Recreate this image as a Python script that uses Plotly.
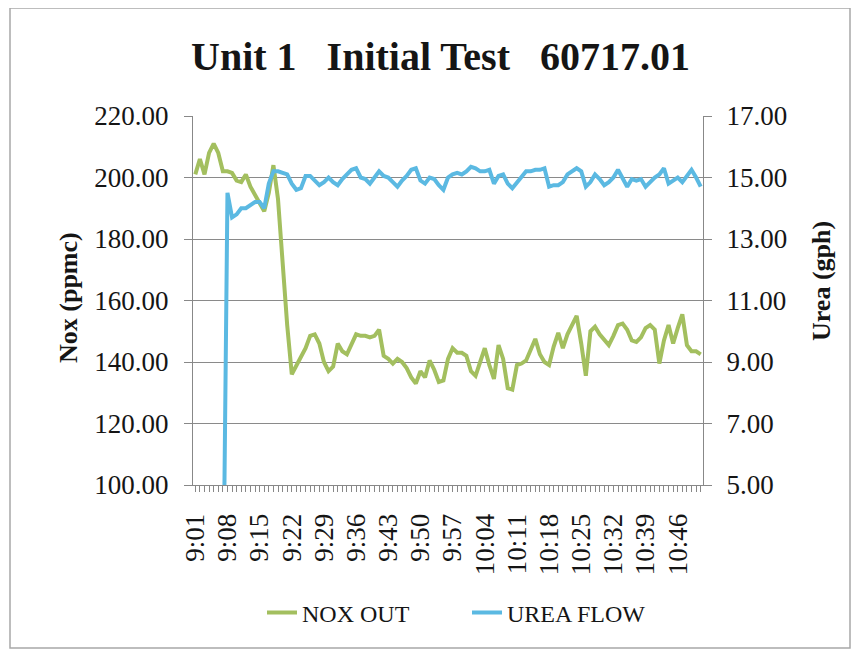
import plotly.graph_objects as go

# ---------------- data ----------------
START_HOUR, START_MIN, N_POINTS = 9, 1, 111
TIMES = []
for k in range(N_POINTS):
    m = START_MIN + k
    TIMES.append(f"{START_HOUR + m // 60}:{m % 60:02d}")

TICK_LABELS = ["9:01", "9:08", "9:15", "9:22", "9:29", "9:36", "9:43", "9:50",
               "9:57", "10:04", "10:11", "10:18", "10:25", "10:32", "10:39", "10:46"]

NOX_OUT = [
    201, 206, 201, 208, 211, 208, 202, 202, 201.5, 199,
    198.5, 201, 197, 194.5, 192, 189, 195, 204, 193, 172,
    152, 136, 139, 142, 144.5, 148.5, 149, 146, 140, 137,
    138.5, 146, 143.5, 142.5, 146, 149, 148.5, 148.5, 148, 148.5,
    150.5, 142, 141, 139.5, 141, 140, 138, 135, 133, 137,
    135, 140.5, 137.5, 133.5, 134, 141, 144.5, 143, 143, 142,
    137, 135.5, 140, 144.5, 139, 134.5, 145.5, 141, 131.5, 131,
    139, 139.5, 140.5, 144, 147.5, 142.5, 140, 139, 145, 149.5,
    144.5, 149, 152, 155, 146, 135.5, 150, 151.5, 149, 147,
    145.5, 148.5, 152, 152.5, 150.5, 147, 146.5, 148, 151, 152,
    150.5, 139.5, 147, 152, 146, 151, 155.5, 145.5, 143.5, 143.5,
    142.5,
]

UREA_FLOW = [
    0, 0, 0, 0, 0, 0, 0, 14.5, 13.7, 13.8,
    14.0, 14.0, 14.1, 14.2, 14.2, 14.0, 14.8, 15.2, 15.2, 15.15,
    15.1, 14.8, 14.6, 14.65, 15.05, 15.05, 14.9, 14.75, 14.85, 15.0,
    14.85, 14.75, 14.95, 15.1, 15.25, 15.3, 15.0, 14.95, 14.8, 15.0,
    15.2, 15.05, 15.0, 14.85, 14.7, 14.9, 15.05, 15.25, 15.3, 14.9,
    14.8, 15.0, 14.95, 14.75, 14.6, 15.0, 15.1, 15.15, 15.1, 15.2,
    15.35, 15.3, 15.2, 15.2, 15.25, 14.8, 15.05, 15.1, 14.8, 14.65,
    14.85, 15.05, 15.2, 15.2, 15.25, 15.25, 15.3, 14.7, 14.75, 14.75,
    14.85, 15.1, 15.2, 15.3, 15.2, 14.7, 14.85, 15.1, 14.95, 14.75,
    14.85, 15.0, 15.25, 14.95, 14.7, 14.95, 14.9, 14.95, 14.7, 14.85,
    15.0, 15.1, 15.3, 14.8, 14.9, 15.0, 14.85, 15.05, 15.25, 15.0,
    14.7,
]

assert len(NOX_OUT) == N_POINTS and len(UREA_FLOW) == N_POINTS

# ---------------- layout geometry (screen pixels) ----------------
PAGE_W, PAGE_H = 859, 656
OFF = 8                       # default page body margin
W, H = PAGE_W - OFF, PAGE_H - OFF
L, R, T, B = 193, 703, 116, 485   # plot area on screen


def px(x):
    return (x - L) / (R - L)


def py(y):
    return (B - y) / (B - T)


SERIF = "Liberation Serif, Times New Roman, serif"
GREEN = "#a3bf5f"
BLUE = "#5bb9e2"
GRID = "#8a8a8a"
AX = "#888888"
TXT = "#151515"

fig = go.Figure()
fig.add_trace(go.Scatter(
    x=TIMES, y=NOX_OUT, name="NOX OUT", mode="lines",
    line=dict(color=GREEN, width=4), yaxis="y",
))
fig.add_trace(go.Scatter(
    x=TIMES, y=UREA_FLOW, name="UREA FLOW", mode="lines",
    line=dict(color=BLUE, width=4), yaxis="y2",
))

ticktext = [t if t in TICK_LABELS else "" for t in TIMES]

fig.update_layout(
    width=W, height=H,
    margin=dict(l=L - OFF, r=W - (R - OFF), t=T - OFF, b=H - (B - OFF), pad=0),
    paper_bgcolor="white", plot_bgcolor="white",
    font=dict(family=SERIF, size=27, color=TXT),
    showlegend=True,
    legend=dict(
        orientation="h", x=px(262), y=py(613), xanchor="left", yanchor="middle",
        font=dict(family=SERIF, size=24, color=TXT),
        bgcolor="rgba(0,0,0,0)", entrywidth=160, entrywidthmode="pixels",
        tracegroupgap=0,
    ),
    xaxis=dict(
        type="category", categoryorder="array", categoryarray=TIMES,
        range=[-0.5, N_POINTS - 0.5],
        tickmode="array", tickvals=TIMES, ticktext=ticktext,
        tickangle=-90, ticks="outside", ticklen=6, tickcolor=AX, tickwidth=1,
        showline=True, linecolor=AX, linewidth=1,
        showgrid=False, zeroline=False,
        tickfont=dict(family=SERIF, size=27, color=TXT),
        ticklabelstandoff=11,
    ),
    yaxis=dict(
        range=[100, 220], dtick=20, tick0=100, tickformat=".2f",
        ticks="outside", ticklen=8, tickcolor=AX,
        showline=True, linecolor=AX, linewidth=1,
        showgrid=True, gridcolor=GRID, gridwidth=1, zeroline=False,
        tickfont=dict(family=SERIF, size=27, color=TXT),
        ticklabelstandoff=10,
    ),
    yaxis2=dict(
        range=[5, 17], dtick=2, tick0=5, tickformat=".2f",
        overlaying="y", side="right",
        ticks="outside", ticklen=8, tickcolor=AX,
        showline=True, linecolor=AX, linewidth=1,
        showgrid=False, zeroline=False,
        tickfont=dict(family=SERIF, size=27, color=TXT),
        ticklabelstandoff=9,
    ),
    annotations=[
        dict(text="<b>Unit 1\u00a0\u00a0\u00a0Initial Test\u00a0\u00a0\u00a060717.01</b>",
             xref="paper", yref="paper", x=px(440), y=py(57),
             xanchor="center", yanchor="middle", showarrow=False,
             font=dict(family=SERIF, size=40, color=TXT)),
        dict(text="<b>Nox (ppmc)</b>", xref="paper", yref="paper",
             x=px(68), y=py(298), xanchor="center", yanchor="middle",
             textangle=-90, showarrow=False,
             font=dict(family=SERIF, size=26, color=TXT)),
        dict(text="<b>Urea (gph)</b>", xref="paper", yref="paper",
             x=px(821), y=py(281), xanchor="center", yanchor="middle",
             textangle=-90, showarrow=False,
             font=dict(family=SERIF, size=26, color=TXT)),
    ],
    shapes=[
        dict(type="rect", xref="paper", yref="paper",
             x0=px(10), x1=px(850), y0=py(648), y1=py(8),
             line=dict(color="#a8a8a8", width=1.5), fillcolor="rgba(0,0,0,0)",
             layer="below"),
    ],
)

fig.write_html("out.html")
